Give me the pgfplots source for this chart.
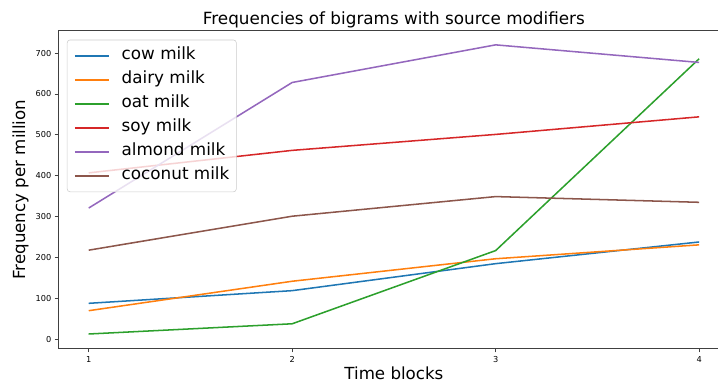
\documentclass[border=0pt]{standalone}
\usepackage{pgfplots}
\pgfplotsset{compat=1.18}
\usepackage{fontspec}
\setmainfont{DejaVu Sans}
\definecolor{c0}{HTML}{1F77B4}
\definecolor{c1}{HTML}{FF7F0E}
\definecolor{c2}{HTML}{2CA02C}
\definecolor{c3}{HTML}{D62728}
\definecolor{c4}{HTML}{9467BD}
\definecolor{c5}{HTML}{8C564B}
\begin{document}
\begin{tikzpicture}
\begin{axis}[
  at={(0,0)}, anchor=south west, scale only axis,
  width=483.5pt, height=229.1pt,
  xmin=0.85, xmax=4.15, ymin=-23, ymax=755,
  xtick={1,2,3,4}, ytick={0,100,200,300,400,500,600,700},
  /pgf/number format/assume math mode=true,
  tick label style={font=\fontsize{5.9}{7}\selectfont, inner sep=0pt},
  xticklabel shift=3pt, yticklabel shift=2.1pt,
  tick align=outside, major tick length=2.6pt,
  xtick pos=bottom, ytick pos=left,
  tick style={black!75, line width=0.6pt},
  axis line style={black!75, line width=0.6pt},
  title={Frequencies of bigrams with source modifiers},
  title style={font=\fontsize{12.1}{14}\selectfont, at={(axis description cs:0.5,1)}, anchor=base, yshift=-2pt, inner sep=0pt},
  xlabel={Time blocks},
  xlabel style={font=\fontsize{12}{14}\selectfont, at={(axis description cs:0.5,0)}, anchor=base, yshift=-22.5pt, inner sep=0pt},
  ylabel={Frequency per million},
  ylabel style={font=\fontsize{12}{14}\selectfont, at={(axis description cs:0,0.5)}, anchor=center, yshift=27.1pt, inner sep=0pt},
  legend cell align=left,
  legend image code/.code={\draw[#1] (0pt,0pt) -- (24.5pt,0pt);},
  legend style={at={(axis description cs:0,1)}, anchor=north west, xshift=6.3pt, yshift=-6.6pt,
    draw=black!20, rounded corners=2pt, fill=white, fill opacity=0.8, text opacity=1,
    font=\fontsize{12.1}{14}\selectfont,
    inner xsep=5pt, inner ysep=5.6pt, row sep=5.58pt,
    nodes={inner sep=0pt, text height=8.8pt, text depth=2.9pt},
    /tikz/every odd column/.append style={column sep=8.6pt}},
]
\addplot[c0, line width=1.1pt] coordinates {(1,88) (2,119) (3,185) (4,238)};
\addlegendentry{cow milk}
\addplot[c1, line width=1.1pt] coordinates {(1,70) (2,142) (3,197) (4,231)};
\addlegendentry{dairy milk}
\addplot[c2, line width=1.1pt] coordinates {(1,13) (2,38) (3,217) (4,686)};
\addlegendentry{oat milk}
\addplot[c3, line width=1.1pt] coordinates {(1,407) (2,462) (3,501) (4,544)};
\addlegendentry{soy milk}
\addplot[c4, line width=1.1pt] coordinates {(1,321) (2,628) (3,720) (4,677)};
\addlegendentry{almond milk}
\addplot[c5, line width=1.1pt] coordinates {(1,218) (2,301) (3,349) (4,335)};
\addlegendentry{coconut milk}
\end{axis}
\pgfresetboundingbox
\path[use as bounding box] (-41.9pt,-24.7pt) rectangle (475.1pt,251.1pt);
\end{tikzpicture}
\end{document}
